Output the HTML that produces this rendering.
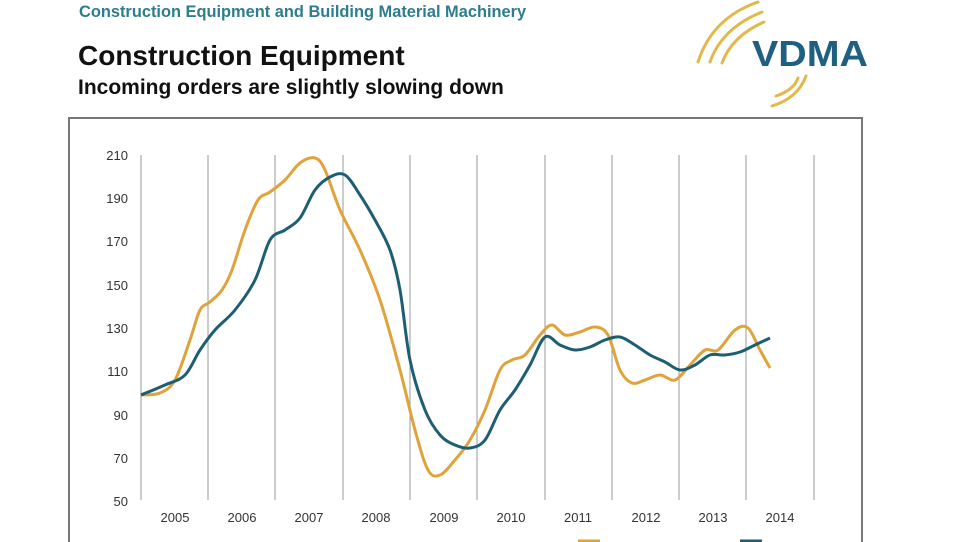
<!DOCTYPE html>
<html><head><meta charset="utf-8"><style>
body{margin:0;width:960px;height:542px;overflow:hidden;background:#fff;font-family:"Liberation Sans",sans-serif;position:relative}
.t{position:absolute;white-space:nowrap;font-weight:bold}
</style></head><body>
<div class="t" style="left:79px;top:3px;font-size:16.4px;color:#2e7d8c">Construction Equipment and Building Material Machinery</div>
<div class="t" style="left:78px;top:40px;font-size:28px;color:#111">Construction Equipment</div>
<div class="t" style="left:78px;top:76px;font-size:21px;color:#111">Incoming orders are slightly slowing down</div>
<svg width="960" height="542" style="position:absolute;left:0;top:0">
<g fill="none" stroke="#e3b84a" stroke-width="3" stroke-linecap="round">
<path d="M698 62 Q712 18 758 2" /><path d="M710 62 Q722 28 762 12"/><path d="M722 63 Q732 36 764 22"/>
<path d="M772 106 Q798 98 806 76" /><path d="M776 96 Q794 90 798 78"/>
</g>
<text x="752" y="66" font-family="Liberation Sans" font-weight="bold" font-size="36" fill="#1f5f82" textLength="116" lengthAdjust="spacingAndGlyphs">VDMA</text>
<rect x="69" y="118" width="793" height="440" fill="none" stroke="#777" stroke-width="2"/>
<g stroke="#999" stroke-width="1">
<line x1="141" y1="155" x2="141" y2="500"/><line x1="208" y1="155" x2="208" y2="500"/><line x1="275" y1="155" x2="275" y2="500"/><line x1="343" y1="155" x2="343" y2="500"/><line x1="410" y1="155" x2="410" y2="500"/><line x1="477" y1="155" x2="477" y2="500"/><line x1="545" y1="155" x2="545" y2="500"/><line x1="612" y1="155" x2="612" y2="500"/><line x1="679" y1="155" x2="679" y2="500"/><line x1="746" y1="155" x2="746" y2="500"/><line x1="814" y1="155" x2="814" y2="500"/>
</g>
<g font-family="Liberation Sans" font-size="13" fill="#333" text-anchor="end">
<text x="128" y="160">210</text><text x="128" y="203">190</text><text x="128" y="246">170</text><text x="128" y="290">150</text><text x="128" y="333">130</text><text x="128" y="376">110</text><text x="128" y="420">90</text><text x="128" y="463">70</text><text x="128" y="506">50</text>
</g>
<g font-family="Liberation Sans" font-size="13" fill="#333" text-anchor="middle">
<text x="175" y="522">2005</text><text x="242" y="522">2006</text><text x="309" y="522">2007</text><text x="376" y="522">2008</text><text x="444" y="522">2009</text><text x="511" y="522">2010</text><text x="578" y="522">2011</text><text x="646" y="522">2012</text><text x="713" y="522">2013</text><text x="780" y="522">2014</text>
</g>
<polyline id="po" fill="none" stroke="#e0a33c" stroke-width="3" stroke-linejoin="round" points="141,395 160,393 175,380 190,340 200,310 210,302 222,290 232,270 245,230 258,200 270,192 285,180 300,163 315,158 325,170 340,210 360,250 380,300 400,370 415,430 428,470 440,475 455,460 470,440 485,410 500,370 512,360 525,355 540,335 552,325 565,335 580,332 595,327 608,335 620,370 632,383 645,380 660,375 675,380 690,365 705,350 718,350 735,330 748,328 760,350 770,368"/>
<polyline id="pt" fill="none" stroke="#1d5e72" stroke-width="3" stroke-linejoin="round" points="141,395 165,385 185,375 200,350 215,330 235,310 255,280 270,240 285,230 300,218 315,190 330,177 345,175 360,195 375,220 390,250 400,290 410,360 425,410 440,435 455,445 470,448 485,440 500,410 515,390 530,365 545,337 560,345 575,350 590,347 605,340 620,337 635,345 650,355 665,362 680,370 695,365 710,355 725,355 740,352 755,345 770,338"/>
<line x1="578" y1="541" x2="600" y2="541" stroke="#e0a33c" stroke-width="3"/>
<line x1="740" y1="541" x2="762" y2="541" stroke="#1d5e72" stroke-width="3"/>
</svg>
<script>
['po','pt'].forEach(function(id){
var el=document.getElementById(id);
var p=el.getAttribute('points').trim().split(/\s+/).map(function(s){return s.split(',').map(Number);});
var d='M'+p[0][0]+' '+p[0][1];
for(var i=0;i<p.length-1;i++){
var p0=p[i>0?i-1:i],p1=p[i],p2=p[i+1],p3=p[i+2<p.length?i+2:i+1];
var c1x=p1[0]+(p2[0]-p0[0])/6,c1y=p1[1]+(p2[1]-p0[1])/6,c2x=p2[0]-(p3[0]-p1[0])/6,c2y=p2[1]-(p3[1]-p1[1])/6;
d+=' C'+c1x+' '+c1y+' '+c2x+' '+c2y+' '+p2[0]+' '+p2[1];}
var np=document.createElementNS('http://www.w3.org/2000/svg','path');
np.setAttribute('d',d);np.setAttribute('fill','none');np.setAttribute('stroke',el.getAttribute('stroke'));np.setAttribute('stroke-width','3');
el.parentNode.insertBefore(np,el);el.parentNode.removeChild(el);
});
</script>
</body></html>
